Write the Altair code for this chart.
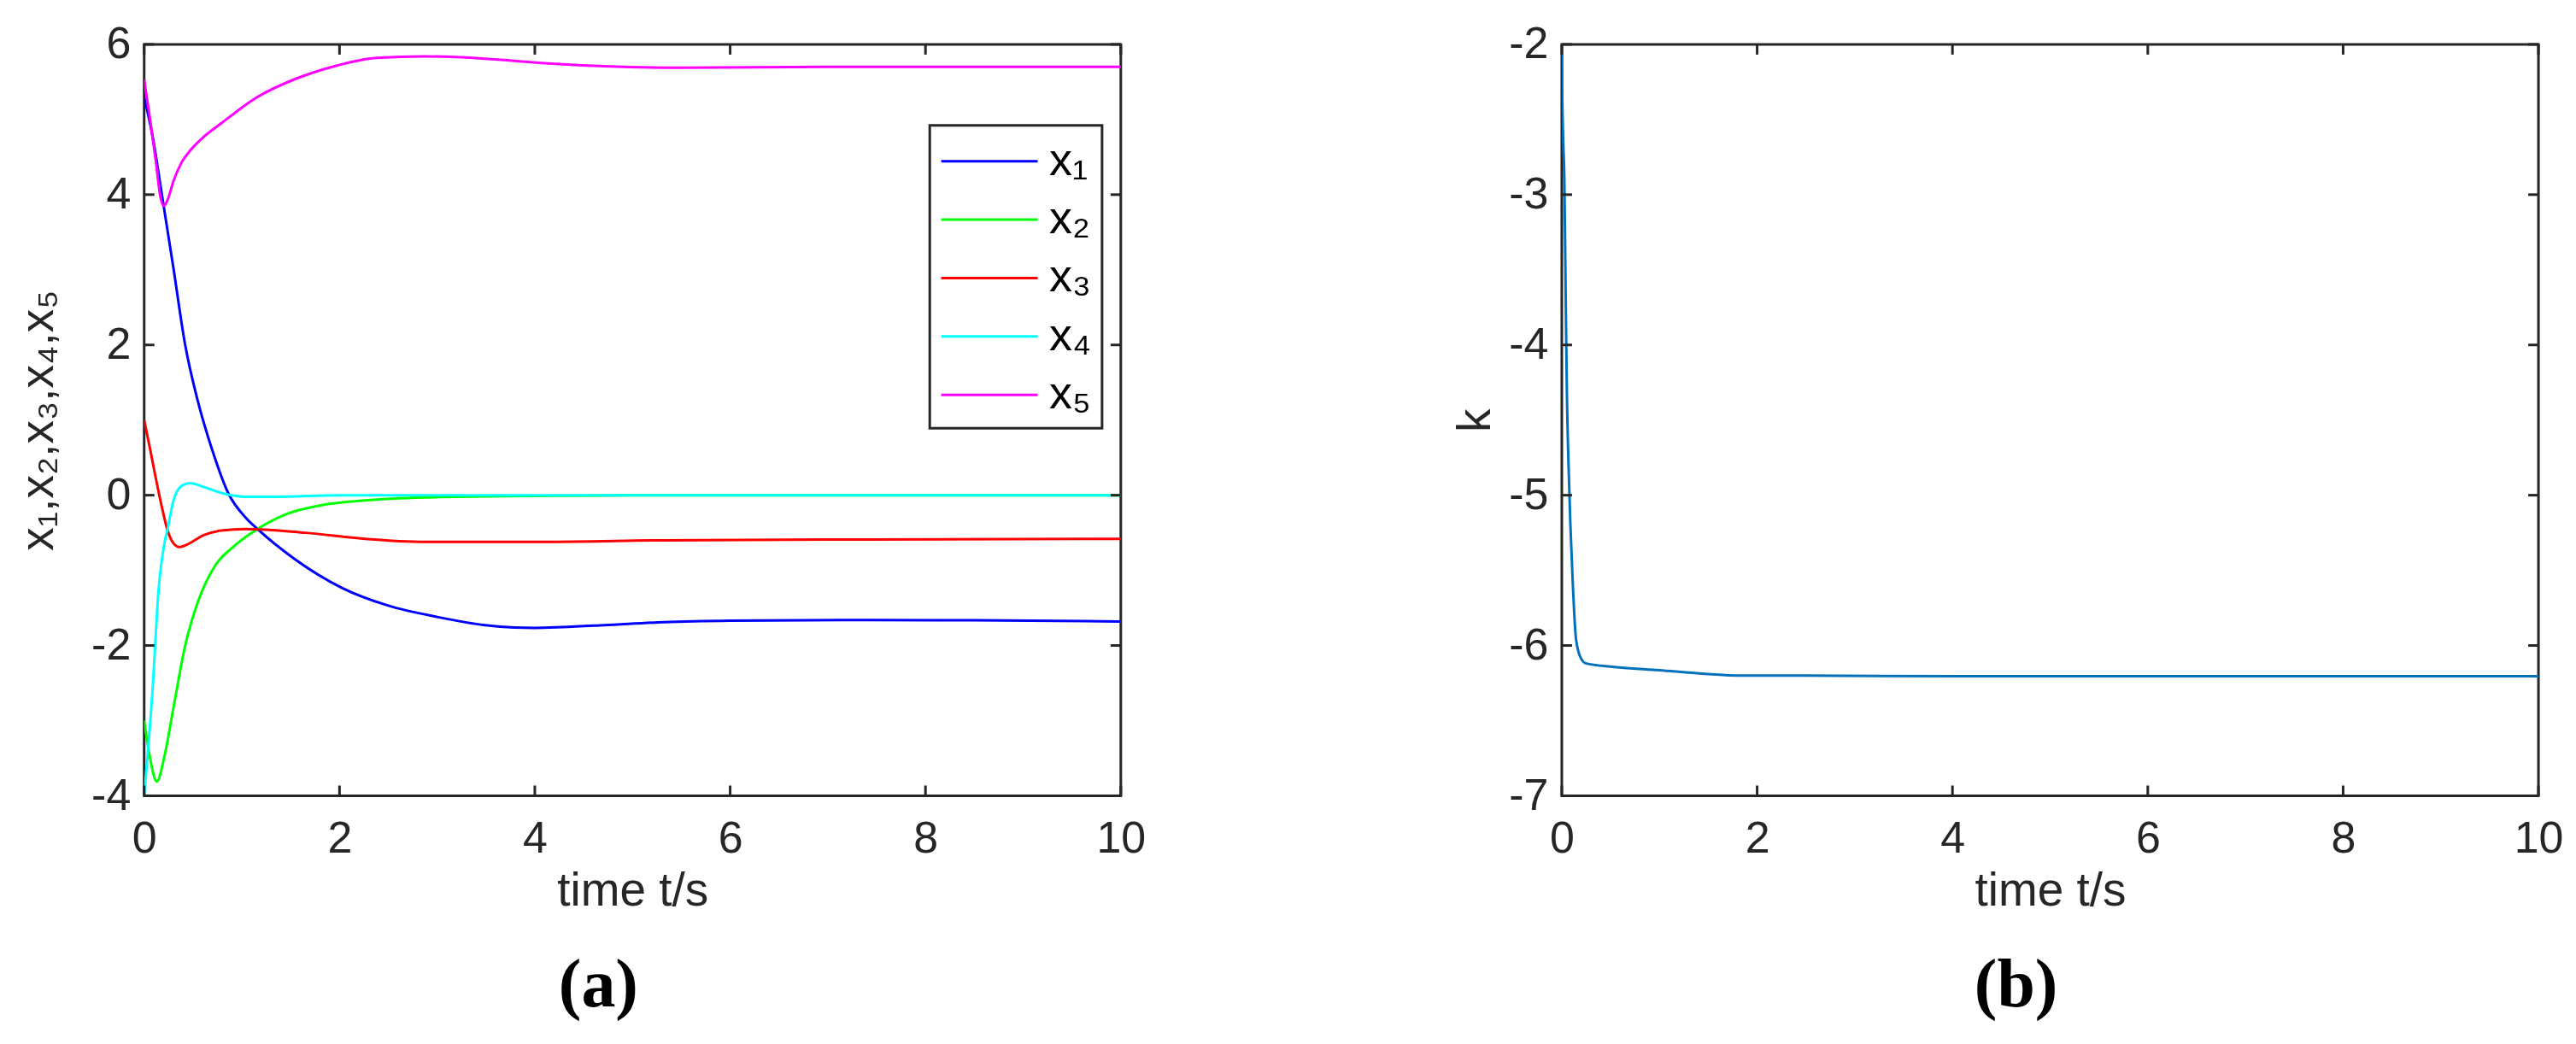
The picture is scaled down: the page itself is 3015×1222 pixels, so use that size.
import altair as alt
import pandas as pd

# ---------------- data ----------------
series_names = ["x\u2081", "x\u2082", "x\u2083", "x\u2084", "x\u2085"]
series_colors = ["#0000FF", "#00FF00", "#FF0000", "#00FFFF", "#FF00FF"]

t_x1 = [0, 0.09, 0.178, 0.30, 0.42, 0.55, 0.70, 0.86, 1.04, 1.16, 1.53, 2.02, 2.5, 3.0, 3.49, 3.79, 4.0, 4.28, 4.71, 5.32, 6.0, 7.16, 8.5, 10]
v_x1 = [5.3, 4.75, 4.03, 3.02, 2.0, 1.25, 0.59, 0.03, -0.30, -0.45, -0.84, -1.23, -1.47, -1.62, -1.73, -1.76, -1.765, -1.755, -1.73, -1.69, -1.67, -1.66, -1.665, -1.68]

t_x2 = [0, 0.055, 0.13, 0.21, 0.30, 0.42, 0.55, 0.73, 0.91, 1.16, 1.46, 1.83, 2.26, 2.87, 3.9, 5, 10]
v_x2 = [-3.0, -3.46, -3.81, -3.46, -2.83, -2.0, -1.42, -0.93, -0.69, -0.45, -0.25, -0.13, -0.07, -0.03, -0.01, 0.0, 0.0]

t_x3 = [0, 0.06, 0.12, 0.18, 0.24, 0.30, 0.36, 0.45, 0.61, 0.79, 1.04, 1.65, 2.26, 2.87, 4.1, 5.3, 7, 10]
v_x3 = [1.0, 0.62, 0.22, -0.15, -0.47, -0.64, -0.69, -0.65, -0.53, -0.47, -0.45, -0.50, -0.58, -0.62, -0.62, -0.60, -0.59, -0.58]

t_x4 = [0, 0.086, 0.147, 0.21, 0.24, 0.30, 0.39, 0.47, 0.61, 0.79, 1.04, 1.34, 2, 10]
v_x4 = [-4.0, -2.59, -1.27, -0.62, -0.45, -0.07, 0.13, 0.16, 0.11, 0.03, -0.02, -0.02, 0.0, 0.0]

t_x5 = [0, 0.055, 0.12, 0.165, 0.2, 0.24, 0.30, 0.38, 0.48, 0.62, 0.79, 1.16, 1.53, 1.95, 2.38, 2.87, 3.49, 4.1, 4.71, 5.5, 7, 10]
v_x5 = [5.53, 5.05, 4.44, 3.98, 3.85, 3.93, 4.18, 4.42, 4.60, 4.78, 4.95, 5.30, 5.53, 5.71, 5.82, 5.84, 5.81, 5.75, 5.71, 5.69, 5.70, 5.70]

t_k = [0, 0.005, 0.015, 0.026, 0.04, 0.052, 0.07, 0.087, 0.11, 0.14, 0.17, 0.2, 0.25, 0.5, 1.0, 1.5, 1.8, 2.5, 4, 10]
v_k = [-2.0, -2.35, -2.65, -2.89, -3.68, -4.31, -4.82, -5.18, -5.55, -5.92, -6.04, -6.09, -6.12, -6.14, -6.165, -6.19, -6.2, -6.2, -6.205, -6.205]

x_ticks = [0, 2, 4, 6, 8, 10]
y_ticks_a = [-4, -2, 0, 2, 4, 6]
y_ticks_b = [-7, -6, -5, -4, -3, -2]

# ---------------- styling ----------------
W, H = 1145, 881
FONT = "Liberation Sans"
TXT = "#262626"
TICK = 12
LBL = "datum.value + ''"  # plain hyphen-minus like the reference

rows = []
for name, ts, vs in zip(series_names, [t_x1, t_x2, t_x3, t_x4, t_x5], [v_x1, v_x2, v_x3, v_x4, v_x5]):
    for t, v in zip(ts, vs):
        rows.append({"t": t, "v": v, "s": name})
df_a = pd.DataFrame(rows)
df_b = pd.DataFrame({"t": t_k, "v": v_k})


def panel(xdom, ydom, yticks, ytitle, ytitlepad):
    xs = alt.Scale(domain=xdom, nice=False, zero=False)
    ys = alt.Scale(domain=ydom, nice=False, zero=False)
    X = alt.X("t:Q", scale=xs, axis=alt.Axis(values=x_ticks, title="time t/s", titlePadding=9,
                                              labelPadding=25, labelExpr=LBL))
    Y = alt.Y("v:Q", scale=ys, axis=alt.Axis(values=yticks, title=ytitle, titlePadding=ytitlepad,
                                              labelPadding=16, labelExpr=LBL))
    xt = pd.DataFrame({"t": x_ticks})
    yt = pd.DataFrame({"v": yticks})
    rule = dict(color=TXT, strokeWidth=3)
    ticks = [
        alt.Chart(xt).mark_rule(**rule).encode(x=X, y=alt.value(H), y2=alt.value(H - TICK)),
        alt.Chart(xt).mark_rule(**rule).encode(x=X, y=alt.value(0), y2=alt.value(TICK)),
        alt.Chart(yt).mark_rule(**rule).encode(y=Y, x=alt.value(0), x2=alt.value(TICK)),
        alt.Chart(yt).mark_rule(**rule).encode(y=Y, x=alt.value(W - TICK), x2=alt.value(W)),
    ]
    return X, Y, ticks


def bottom_title(txt):
    return alt.TitleParams(txt, orient="bottom", font="Liberation Serif", fontSize=80,
                           fontWeight="bold", color="black", dx=-40, offset=45, anchor="middle")


# panel (a)
Xa, Ya, ticks_a = panel([0, 10], [-4, 6], y_ticks_a, "x\u2081,x\u2082,x\u2083,x\u2084,x\u2085", 33)
lines_a = alt.Chart(df_a).mark_line(strokeWidth=3, interpolate="monotone", clip=True).encode(
    x=Xa, y=Ya,
    color=alt.Color("s:N", scale=alt.Scale(domain=series_names, range=series_colors),
                    legend=alt.Legend(title=None, orient="none", legendX=921, legendY=95,
                                      symbolType="M-2,0H2", symbolSize=56.5 ** 2, symbolStrokeWidth=3,
                                      symbolOffset=28, labelFont=FONT, labelFontSize=54,
                                      labelColor="black", labelOffset=40, rowPadding=11.5,
                                      padding=12, strokeColor=TXT, fillColor="white", labelLimit=0)),
    order=alt.Order("t:Q"),
)
chart_a = alt.layer(lines_a, *ticks_a).properties(width=W, height=H, title=bottom_title("(a)"))

# panel (b)
Xb, Yb, ticks_b = panel([0, 10], [-7, -2], y_ticks_b, "k", 10)
line_b = alt.Chart(df_b).mark_line(strokeWidth=3, interpolate="monotone", color="#0072BD", clip=True).encode(
    x=Xb, y=Yb)
chart_b = alt.layer(line_b, *ticks_b).properties(width=W, height=H, title=bottom_title("(b)"))

chart = alt.hconcat(chart_a, chart_b, spacing=356).properties(
    padding={"left": 8, "top": 15, "right": 5, "bottom": 5}
).configure_view(stroke=TXT, strokeWidth=3).configure_axis(
    grid=False, domain=False, ticks=False, tickSize=0, labelFont=FONT, labelFontSize=52,
    labelColor=TXT, labelFlush=False, labelOverlap=False, titleFont=FONT, titleFontSize=55,
    titleFontWeight="normal", titleColor=TXT
).configure_legend(strokeWidth=3)

chart.save("out.html", embed_options={"renderer": "svg", "actions": False})
